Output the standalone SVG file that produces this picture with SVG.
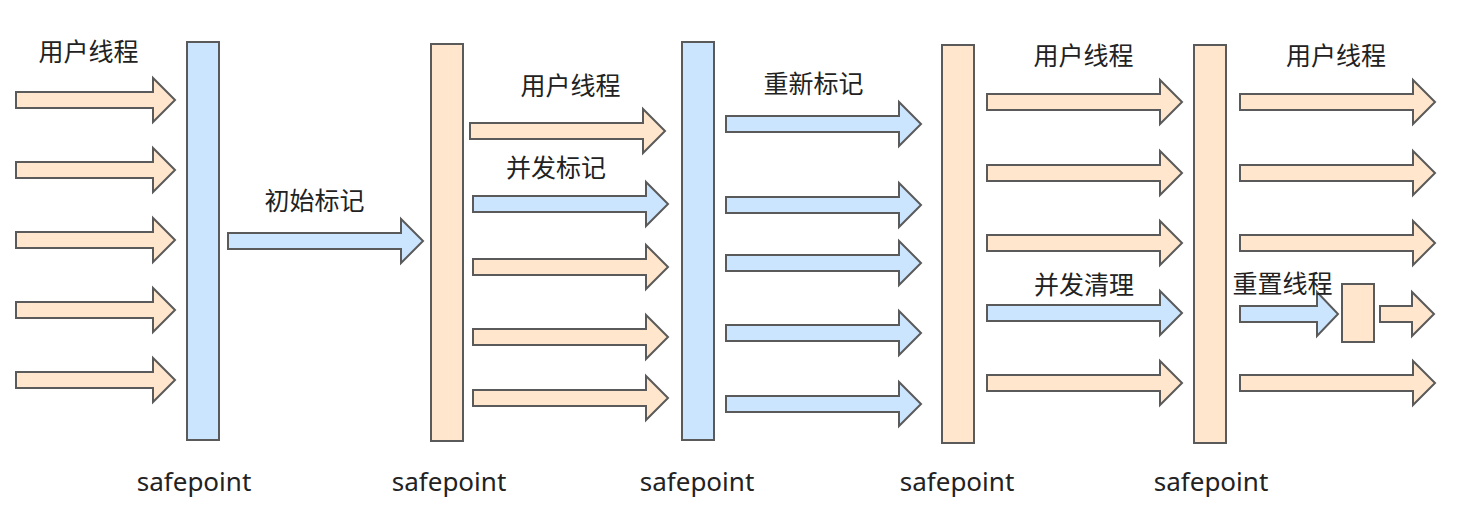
<svg xmlns="http://www.w3.org/2000/svg" xmlns:xlink="http://www.w3.org/1999/xlink" width="1458" height="524" viewBox="0 0 1458 524">
<style>
.o{fill:#FFE6CC;stroke:#5a5a5a;stroke-width:2}
.b{fill:#CCE5FF;stroke:#5a5a5a;stroke-width:2}
.t{font-family:"Noto Sans CJK SC","Noto Sans",sans-serif;font-size:25px;fill:#222;text-anchor:middle}
.s{font-family:"Noto Sans","Liberation Sans",sans-serif;font-size:26px;fill:#222;text-anchor:middle}
</style>
<defs>
<path id="a159" d="M0,-8 H137 V-22 L159,0 L137,22 V8 H0 Z"/>
<path id="a195" d="M0,-8 H173 V-22 L195,0 L173,22 V8 H0 Z"/>
<path id="a98" d="M0,-8 H77 V-22 L98,0 L77,22 V8 H0 Z"/>
<path id="a54" d="M0,-8 H32 V-22 L54,0 L32,22 V8 H0 Z"/>
</defs>
<rect width="1458" height="524" fill="#fff"/>
<g id="sp1"><rect class="b" x="187" y="42" width="32" height="398"/><text class="s" x="194" y="491">safepoint</text></g>
<g id="sp2"><rect class="o" x="431" y="44" width="32" height="397"/><text class="s" x="449" y="491">safepoint</text></g>
<g id="sp3"><rect class="b" x="682" y="42" width="32" height="398"/><text class="s" x="697" y="491">safepoint</text></g>
<g id="sp4"><rect class="o" x="942" y="45" width="32" height="398"/><text class="s" x="957" y="491">safepoint</text></g>
<g id="sp5"><rect class="o" x="1194" y="45" width="32" height="398"/><text class="s" x="1211" y="491">safepoint</text></g>
<g id="reset-box"><rect class="o" x="1342" y="284" width="32" height="58"/></g>
<g id="connectors">
<use href="#a159" class="o" x="16" y="100"/>
<use href="#a159" class="o" x="16" y="170"/>
<use href="#a159" class="o" x="16" y="240"/>
<use href="#a159" class="o" x="16" y="310"/>
<use href="#a159" class="o" x="16" y="380"/>
<use href="#a195" class="b" x="228" y="241"/>
<use href="#a195" class="o" x="470" y="131"/>
<use href="#a195" class="b" x="473" y="204"/>
<use href="#a195" class="o" x="473" y="267"/>
<use href="#a195" class="o" x="473" y="337"/>
<use href="#a195" class="o" x="473" y="398"/>
<use href="#a195" class="b" x="726" y="124"/>
<use href="#a195" class="b" x="726" y="205"/>
<use href="#a195" class="b" x="726" y="263"/>
<use href="#a195" class="b" x="726" y="333"/>
<use href="#a195" class="b" x="726" y="404"/>
<use href="#a195" class="o" x="987" y="102"/>
<use href="#a195" class="o" x="987" y="173"/>
<use href="#a195" class="o" x="987" y="243"/>
<use href="#a195" class="b" x="987" y="313"/>
<use href="#a195" class="o" x="987" y="383"/>
<use href="#a195" class="o" x="1240" y="102"/>
<use href="#a195" class="o" x="1240" y="173"/>
<use href="#a195" class="o" x="1240" y="243"/>
<use href="#a195" class="o" x="1240" y="383"/>
<use href="#a98" class="b" x="1240" y="314"/>
<use href="#a54" class="o" x="1380" y="314"/>
</g>
<g id="labels">
<text class="t" x="88.5" y="61">用户线程</text>
<text class="t" x="314.5" y="209.5">初始标记</text>
<text class="t" x="570.5" y="94.5">用户线程</text>
<text class="t" x="556" y="176.5">并发标记</text>
<text class="t" x="813.5" y="92.5">重新标记</text>
<text class="t" x="1083.5" y="64.5">用户线程</text>
<text class="t" x="1084" y="293.5">并发清理</text>
<text class="t" x="1336" y="64.5">用户线程</text>
<text class="t" x="1282.5" y="292.5">重置线程</text>
</g>
</svg>
